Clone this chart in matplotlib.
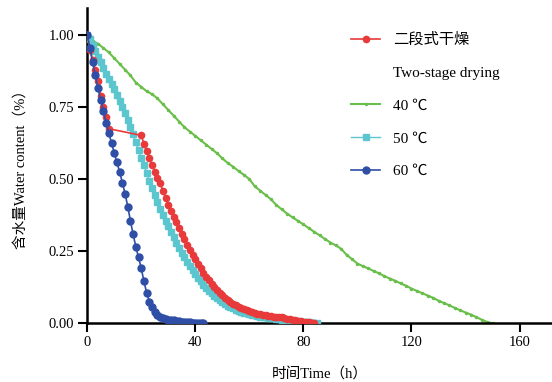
import numpy as np
import matplotlib
matplotlib.use("Agg")
import matplotlib.pyplot as plt
from matplotlib.lines import Line2D

plt.rcParams['font.family'] = ['Liberation Serif', 'Noto Sans CJK SC', 'DejaVu Sans']

#* two-stage drying (gap between 8 h and 20 h)
t_two = [0, 1, 2, 3, 4, 5, 6, 7, 8,
         20, 21, 22, 23, 24, 25, 26, 27, 28, 29, 30, 31, 32, 33, 34, 35, 36, 37, 38, 39,
         40, 41, 42, 43, 44, 45, 46, 47, 48, 49, 50, 51, 52, 53, 54, 55, 56, 57, 58, 59,
         60, 61, 62, 63, 64, 65, 66, 67, 68, 69, 70, 71, 72, 73, 74, 75, 76, 77, 78, 79,
         80, 81, 82, 83, 84]
w_two = [1.0, 0.95, 0.915, 0.88, 0.84, 0.79, 0.75, 0.715, 0.675,
         0.652, 0.622, 0.597, 0.572, 0.549, 0.525, 0.505, 0.485, 0.46, 0.435, 0.41, 0.39,
         0.37, 0.35, 0.33, 0.31, 0.292, 0.273, 0.255, 0.238,
         0.222, 0.206, 0.19, 0.175, 0.162, 0.149, 0.137, 0.126, 0.116, 0.106,
         0.097, 0.089, 0.081, 0.074, 0.068, 0.062, 0.057, 0.052, 0.048, 0.044,
         0.041, 0.038, 0.035, 0.033, 0.031, 0.029, 0.027, 0.026, 0.024, 0.023,
         0.022, 0.021, 0.02, 0.018, 0.016, 0.014, 0.012, 0.01, 0.008, 0.006,
         0.005, 0.004, 0.003, 0.002, 0.001]

#* 40 C, every 2 h
t_40 = list(range(0, 152, 2))
w_40 = [1.0, 0.98, 0.97, 0.955, 0.94, 0.92, 0.90, 0.88, 0.86, 0.835,
        0.82, 0.805, 0.795, 0.78, 0.76, 0.74, 0.72, 0.70, 0.68, 0.665,
        0.65, 0.635, 0.62, 0.605, 0.59, 0.572, 0.556, 0.543, 0.528, 0.515,
        0.50, 0.475, 0.46, 0.445, 0.43, 0.41, 0.395, 0.38, 0.367, 0.355,
        0.343, 0.33, 0.317, 0.305, 0.292, 0.28, 0.27, 0.258, 0.237, 0.222,
        0.207, 0.198, 0.19, 0.181, 0.173, 0.163, 0.155, 0.147, 0.138, 0.13,
        0.12, 0.112, 0.104, 0.096, 0.088, 0.078, 0.07, 0.062, 0.053, 0.045,
        0.037, 0.03, 0.021, 0.012, 0.004, 0.0]

#* 50 C, every 1 h
t_50 = list(range(0, 86))
w_50 = [1.0, 0.985, 0.965, 0.945, 0.925, 0.905, 0.885, 0.865, 0.848, 0.83,
        0.812, 0.792, 0.772, 0.75, 0.728, 0.705, 0.68, 0.655, 0.628, 0.6,
        0.575, 0.548, 0.522, 0.495, 0.47, 0.445, 0.42, 0.397, 0.376, 0.355,
        0.336, 0.317, 0.298, 0.28, 0.262, 0.245, 0.229, 0.214, 0.199, 0.185,
        0.171, 0.158, 0.146, 0.134, 0.123, 0.113, 0.104, 0.095, 0.087, 0.08,
        0.073, 0.067, 0.061, 0.056, 0.051, 0.047, 0.043, 0.04, 0.037, 0.034,
        0.031, 0.029, 0.027, 0.025, 0.023, 0.021, 0.02, 0.019, 0.018, 0.017,
        0.015, 0.014, 0.012, 0.011, 0.01, 0.009, 0.008, 0.007, 0.006, 0.005,
        0.004, 0.003, 0.003, 0.002, 0.001, 0.0]

#* 60 C, every 1 h
t_60 = list(range(0, 44))
w_60 = [1.0, 0.955, 0.905, 0.86, 0.815, 0.775, 0.735, 0.695, 0.66, 0.625,
        0.592, 0.558, 0.525, 0.488, 0.45, 0.405, 0.355, 0.308, 0.265, 0.228,
        0.19, 0.145, 0.105, 0.075, 0.055, 0.04, 0.03, 0.022, 0.017, 0.014,
        0.012, 0.011, 0.01, 0.008, 0.006, 0.005, 0.004, 0.003, 0.003, 0.002,
        0.002, 0.001, 0.001, 0.0]

RED, GREEN, CYAN, BLUE = '#e83a3a', '#6abf4b', '#5cc6cf', '#2f4ea6'

fig = plt.figure(figsize=(5.52, 3.82), dpi=100)
ax = fig.add_axes([0.158, 0.154, 0.842, 0.825])

ax.plot(t_40, w_40, '-', color=GREEN, lw=1.5, marker='o', ms=1.5, zorder=2)
ax.plot(t_50, w_50, '-', color=CYAN, lw=1.0, marker='s', ms=5, zorder=3)
ax.plot(t_two, w_two, '-', color=RED, lw=1.2, marker='o', ms=4.5, zorder=4)
ax.plot(t_60, w_60, '-', color=BLUE, lw=1.2, marker='o', ms=5, zorder=5)

ax.set_xlim(0, 172)
ax.set_ylim(0, 1.094)
ax.set_xticks([0, 40, 80, 120, 160])
ax.set_yticks([0, 0.25, 0.5, 0.75, 1.0])
ax.set_yticklabels(['0.00', '0.25', '0.50', '0.75', '1.00'])
ax.tick_params(direction='out', length=6.5, width=1.5, labelsize=10.5, pad=3)
for s in ['top', 'right']:
    ax.spines[s].set_visible(False)
for s in ['left', 'bottom']:
    ax.spines[s].set_linewidth(1.8)

ax.set_xlabel('时间Time（h）', fontsize=10.5, labelpad=13)
ax.set_ylabel('含水量Water content（%）', fontsize=10.5, labelpad=14)

handles = [Line2D([], [], color=RED, marker='o', ms=4.5, lw=1.2),
           Line2D([], [], color='none'),
           Line2D([], [], color=GREEN, marker='o', ms=1.5, lw=1.5),
           Line2D([], [], color=CYAN, marker='s', ms=5, lw=1.0),
           Line2D([], [], color=BLUE, marker='o', ms=5, lw=1.2)]
labels = ['二段式干燥', 'Two-stage drying', '40 ℃', '50 ℃', '60 ℃']
ax.legend(handles, labels, loc='upper left', bbox_to_anchor=(0.538, 0.965),
          frameon=False, fontsize=11, handlelength=1.9, handletextpad=0.85,
          labelspacing=1.25)

fig.savefig('out.png', dpi=100)
